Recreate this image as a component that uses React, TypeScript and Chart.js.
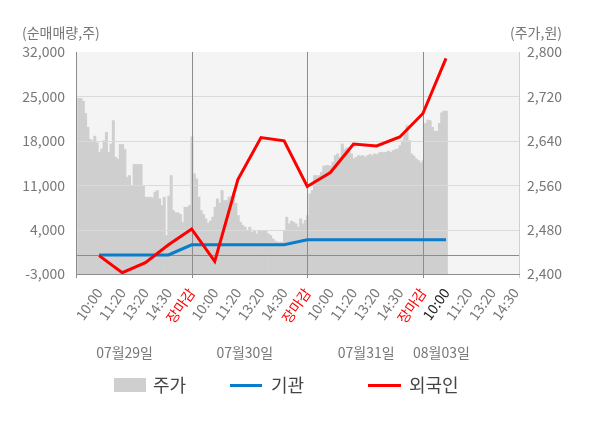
import React, { useEffect, useRef } from 'react';
import { Chart, registerables } from 'chart.js';

Chart.register(...registerables);

// ---- data ----
const timeLabels = [
  '', '10:00', '11:20', '13:20', '14:30', '장마감',
  '10:00', '11:20', '13:20', '14:30', '장마감',
  '10:00', '11:20', '13:20', '14:30', '장마감',
  '10:00', '11:20', '13:20', '14:30',
];
const dateLabels = ['07월29일', '07월30일', '07월31일', '08월03일'];

// 기관 순매매량 (주), from the first 10:00 slot onward
const instValues = [0, 0, 0, 0, 1600, 1600, 1600, 1600, 1600, 2400, 2400, 2400, 2400, 2400, 2400, 2400];
// 외국인 순매매량 (주)
const foreignValues = [-100, -2800, -1200, 1600, 4100, -1000, 11900, 18500, 18000, 10800, 13000, 17500, 17200, 18600, 22300, 31000];

// 주가 (원), intraday
const priceDay1 = [
  2717, 2717, 2712, 2690, 2665, 2643, 2641, 2649, 2637, 2620,
  2626, 2641, 2656, 2620, 2635, 2677, 2611, 2607, 2634, 2634,
  2625, 2575, 2578, 2560, 2598, 2598, 2598, 2598, 2560, 2539,
  2539, 2539, 2538, 2548, 2551, 2536, 2524, 2539, 2470, 2541,
  2578, 2515, 2511, 2511, 2508, 2494, 2521, 2521, 2524, 2648,
];
const priceDay2 = [
  2581, 2572, 2539, 2515, 2508, 2500, 2492, 2496, 2503, 2521,
  2536, 2528, 2551, 2533, 2533, 2539, 2541, 2548, 2528, 2506,
  2494, 2488, 2485, 2479, 2485, 2476, 2479, 2473, 2479, 2479,
  2478, 2479, 2473, 2470, 2464, 2460, 2458, 2458, 2458, 2479,
  2503, 2491, 2496, 2494, 2491, 2485, 2500, 2491, 2497, 2506,
];
const priceDay3 = [
  2545, 2551, 2578, 2578, 2578, 2584, 2595, 2596, 2596, 2595,
  2602, 2614, 2617, 2611, 2635, 2625, 2628, 2623, 2617, 2608,
  2611, 2614, 2613, 2614, 2611, 2614, 2616, 2614, 2617, 2616,
  2619, 2620, 2619, 2620, 2622, 2620, 2623, 2625, 2626, 2632,
  2641, 2653, 2668, 2641, 2617, 2613, 2608, 2605, 2601, 2605,
];
const priceDay4 = [2672, 2678, 2677, 2665, 2658, 2658, 2672, 2691, 2694, 2694];

const BAR_SLOTS = 192; // 50 per trading day, axis shows 19.2 time slots
const X_MAX = 19.2;

const FONT = "'Noto Sans CJK KR', 'Noto Sans', sans-serif";
const GRAY_TEXT = '#777777';

function buildBars(): (number | null)[] {
  const all: (number | null)[] = [...priceDay1, ...priceDay2, ...priceDay3, ...priceDay4];
  while (all.length < BAR_SLOTS) all.push(null);
  return all;
}

const decorPlugin = {
  id: 'decor',
  beforeDraw(chart: any) {
    const { ctx, chartArea: a } = chart;
    ctx.save();
    ctx.fillStyle = '#f4f4f4';
    ctx.fillRect(a.left, a.top, a.right - a.left, a.bottom - a.top);
    ctx.restore();
  },
  afterDatasetDraw(chart: any, args: any) {
    if (args.meta.type !== 'bar') return;
    const { ctx, chartArea: a } = chart;
    const yL = chart.scales.y;
    const xs = chart.scales.x;
    const h = (y: number, x1: number, x2: number, color: string) => {
      const yy = Math.round(y) + 0.5;
      ctx.strokeStyle = color;
      ctx.beginPath();
      ctx.moveTo(x1, yy);
      ctx.lineTo(x2, yy);
      ctx.stroke();
    };
    const v = (x: number, y1: number, y2: number, color: string) => {
      const xx = Math.round(x) + 0.5;
      ctx.strokeStyle = color;
      ctx.beginPath();
      ctx.moveTo(xx, y1);
      ctx.lineTo(xx, y2);
      ctx.stroke();
    };
    ctx.save();
    ctx.lineWidth = 1;
    yL.ticks.forEach((t: any) => {
      if (t.value > yL.min && t.value < yL.max) h(yL.getPixelForValue(t.value), a.left, a.right, '#dadada');
    });
    h(yL.getPixelForValue(0), a.left, a.right, '#8c8c8c');
    v(a.right - 1, a.top, a.bottom + 4, '#d0d0d0');
    [0, 5, 10, 15].forEach((d) => v(xs.getPixelForValue(d), a.top, a.bottom + 4, '#8c8c8c'));
    h(a.bottom, a.left, a.right, '#8c8c8c');
    ctx.restore();
  },
  afterDraw(chart: any) {
    const { ctx } = chart;
    const xs = chart.scales.x;
    ctx.save();
    ctx.textBaseline = 'middle';
    ctx.font = `14px ${FONT}`;
    ctx.fillStyle = GRAY_TEXT;
    ctx.textAlign = 'left';
    ctx.fillText('(순매매량,주)', 22, 33);
    ctx.textAlign = 'right';
    ctx.fillText('(주가,원)', 562, 33);

    const datePos = [2.1, 7.3, 12.55, 15.8];
    ctx.textAlign = 'center';
    dateLabels.forEach((d, i) => ctx.fillText(d, xs.getPixelForValue(datePos[i]), 353));

    // legend
    const ly = 385;
    ctx.font = `18px ${FONT}`;
    ctx.textAlign = 'left';
    ctx.fillStyle = '#cfcfcf';
    ctx.fillRect(114, 378, 32, 14);
    ctx.fillStyle = '#444444';
    ctx.fillText('주가', 153, ly);
    ctx.lineWidth = 3;
    ctx.strokeStyle = '#0a7ccc';
    ctx.beginPath();
    ctx.moveTo(230, ly + 0.5);
    ctx.lineTo(262, ly + 0.5);
    ctx.stroke();
    ctx.fillText('기관', 271, ly);
    ctx.strokeStyle = '#ff0000';
    ctx.beginPath();
    ctx.moveTo(368, ly + 0.5);
    ctx.lineTo(401, ly + 0.5);
    ctx.stroke();
    ctx.fillText('외국인', 409, ly);
    ctx.restore();
  },
};

export default function App() {
  const ref = useRef<HTMLCanvasElement>(null);
  useEffect(() => {
    if (!ref.current) return;
    Chart.defaults.font.family = FONT;
    const barSlots = Array.from({ length: BAR_SLOTS }, (_, i) => String(i));
    const chart = new Chart(ref.current, {
      type: 'bar',
      data: {
        labels: barSlots,
        datasets: [
          {
            type: 'line',
            label: '외국인',
            data: foreignValues.map((val, i) => ({ x: i + 1, y: val })),
            borderColor: '#ff0000',
            borderWidth: 3,
            pointRadius: 0,
            tension: 0,
            xAxisID: 'x',
            yAxisID: 'y',
            order: 0,
          } as any,
          {
            type: 'line',
            label: '기관',
            data: instValues.map((val, i) => ({ x: i + 1, y: val })),
            borderColor: '#0a7ccc',
            borderWidth: 3,
            pointRadius: 0,
            tension: 0,
            xAxisID: 'x',
            yAxisID: 'y',
            order: 1,
          } as any,
          {
            type: 'bar',
            label: '주가',
            data: buildBars(),
            backgroundColor: '#cfcfcf',
            borderWidth: 0,
            barThickness: 3,
            inflateAmount: 0,
            base: 2400,
            xAxisID: 'xb',
            yAxisID: 'yR',
            order: 2,
          } as any,
        ],
      },
      options: {
        animation: false,
        responsive: false,
        events: [],
        layout: { padding: { top: 52, left: 0, right: 0, bottom: 0 } },
        plugins: { legend: { display: false }, tooltip: { enabled: false } },
        scales: {
          x: {
            type: 'linear',
            position: 'bottom',
            offset: false,
            min: 0,
            max: X_MAX,
            afterBuildTicks: (s: any) => {
              s.ticks = timeLabels.map((_, i) => ({ value: i }));
            },
            afterFit: (s: any) => {
              s.height = 428 - 274;
            },
            grid: { display: false, offset: false },
            border: { display: false },
            ticks: {
              autoSkip: false,
              minRotation: 55,
              maxRotation: 55,
              padding: 3,
              font: { size: 14 },
              color: (c: any) => {
                const lab = timeLabels[c.index];
                if (lab === '장마감') return '#ff0000';
                if (c.index === 16) return '#222222';
                return GRAY_TEXT;
              },
              callback: (_v: any, i: number) => timeLabels[i],
            },
          },
          xb: {
            type: 'category',
            display: false,
            offset: true,
            grid: { display: false },
          },
          y: {
            type: 'linear',
            position: 'left',
            min: -3000,
            max: 32000,
            afterFit: (s: any) => {
              s.width = 76;
            },
            grid: { display: false, drawTicks: false },
            border: { display: false },
            ticks: {
              stepSize: 7000,
              padding: 11,
              color: GRAY_TEXT,
              font: { size: 14 },
              callback: (v: any) => Number(v).toLocaleString('en-US'),
            },
          },
          yR: {
            type: 'linear',
            position: 'right',
            min: 2400,
            max: 2800,
            afterFit: (s: any) => {
              s.width = 80;
            },
            grid: { display: false, drawTicks: false },
            border: { display: false },
            ticks: {
              stepSize: 80,
              padding: 7,
              color: GRAY_TEXT,
              font: { size: 14 },
              callback: (v: any) => Number(v).toLocaleString('en-US'),
            },
          },
        },
      } as any,
      plugins: [decorPlugin],
    });
    return () => chart.destroy();
  }, []);
  return (
    <div style={{ position: 'absolute', left: 0, top: 0, width: 600, height: 428, background: '#fff' }}>
      <canvas ref={ref} width={600} height={428} style={{ display: 'block' }} />
    </div>
  );
}
